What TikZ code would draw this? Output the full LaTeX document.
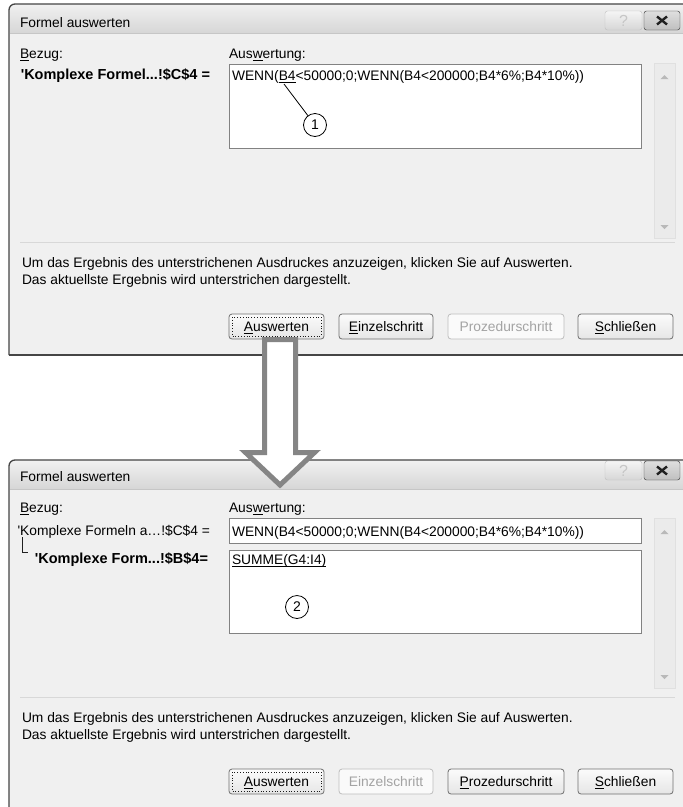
\documentclass[tikz,border=0pt]{standalone}
\usepackage{fontspec}
\setmainfont{Liberation Sans}
\definecolor{bodybg}{HTML}{F0F0F0}
\definecolor{frameC}{HTML}{454545}
\definecolor{boxC}{HTML}{828282}
\definecolor{btnC}{HTML}{707070}
\definecolor{disC}{HTML}{BDBDBD}
\definecolor{distxt}{HTML}{A3A3A3}
\definecolor{sepC}{HTML}{D8D8D8}
\definecolor{arrowC}{HTML}{858585}
\definecolor{sbC}{HTML}{EBEBEB}
\definecolor{sbline}{HTML}{E0E0E0}
\newcommand\ulet[1]{\setbox0\hbox{#1}\rlap{\smash{\vrule height -1.6pt depth 2.6pt width \wd0}}\box0}
\begin{document}
\begin{tikzpicture}[x=1pt,y=-1pt,
  every node/.style={font=\fontsize{13.8}{17}\selectfont, inner sep=0pt, outer sep=0pt},
  lbl/.style={anchor=base west},
  lblr/.style={anchor=base east},
  boldlbl/.style={anchor=base east, font=\fontsize{14.5}{17}\selectfont\bfseries},
  tbox/.style={draw=boxC, fill=white, line width=0.9, anchor=north west},
  btn/.style={draw=btnC, rounded corners=3pt, top color=gray!3, bottom color=gray!20, line width=0.8, minimum height=25, anchor=north west},
  btnoff/.style={draw=disC, rounded corners=3pt, fill=gray!4, text=distxt, line width=0.8, minimum height=25, anchor=north west},
  capq/.style={draw=gray!50, rounded corners=2.5pt, top color=gray!8, bottom color=gray!32, minimum width=37, minimum height=19, anchor=north west, text=gray!45, font=\fontsize{16}{16}\selectfont},
  capx/.style={draw=gray!35!black, rounded corners=2.5pt, top color=gray!25, bottom color=gray!50, minimum width=36, minimum height=19, anchor=north west},
  xmark/.style={line width=2.4, gray!25!black},
  callout/.style={circle, draw, line width=0.8, minimum size=23, font=\fontsize{14}{14}\selectfont},
  sb/.style={draw=sbline, fill=sbC, anchor=north west, minimum width=21},
  sep/.style={sepC, line width=1},
  tri/.style={fill=gray!55}
]
\useasboundingbox (0,0) rectangle (683,807);
\clip (0,0) rectangle (683,807);
\fill[white] (0,0) rectangle (683,807);

% ================= TOP DIALOG =================
\fill[bodybg] (9,355) [rounded corners=6]-- (9,4) [sharp corners]-- (690,4) -- (690,355) -- cycle;
\shade[top color=gray!12, bottom color=gray!32] (10,33) [rounded corners=5]-- (10,5) [sharp corners]-- (683,5) -- (683,33) -- cycle;
\draw[gray!45] (10,33) -- (683,33);
\draw[frameC, line width=1.3] (9,355) [rounded corners=6]-- (9,4) -- (690,4);
\draw[frameC, line width=2] (9,355) -- (690,355);
\node[lbl] (t1) at (20,27) {Formel auswerten};
\node[capq] (q1) at (605,11) {?};
\node[capx] (x1) at (644,11) {};
\draw[xmark] ([shift={(-5,-4)}]x1.center) -- ([shift={(5,4)}]x1.center);
\draw[xmark] ([shift={(-5,4)}]x1.center) -- ([shift={(5,-4)}]x1.center);

\node[lbl] (bz1) at (20,58) {\ulet{B}ezug:};
\node[lbl] (aw1) at (229,58) {Aus\ulet{w}ertung:};
\node[boldlbl] (ref1) at (210,79) {\textquotesingle Komplexe Formel...!\$C\$4 =};
\node[tbox, minimum width=412, minimum height=84] (box1) at (229,64) {};
\node[lbl] (f1) at (232,80) {WENN(\ulet{B4}<50000;0;WENN(B4<200000;B4*6\%;B4*10\%))};
\node[callout] (c1) at (315,125) {1};
\coordinate (p1) at (284,84);
\draw[line width=0.8] (p1) -- (c1);

\node[sb, minimum height=175] (sb1) at (654,63) {};
\fill[tri] (660.5,79) -- (668.5,79) -- (664.5,75) -- cycle;
\fill[tri] (660.5,225) -- (668.5,225) -- (664.5,229) -- cycle;
\draw[sep] (20,242) -- (675,242);

\node[lbl] (m1) at (22,267) {Um das Ergebnis des unterstrichenen Ausdruckes anzuzeigen, klicken Sie auf Auswerten.};
\node[lbl] (m2) at (22,284) {Das aktuellste Ergebnis wird unterstrichen dargestellt.};

\node[btn, minimum width=95] (b11) at (229,314) {\ulet{A}uswerten};
\draw[dotted, line width=0.8, gray!20!black] ([shift={(3,3)}]b11.north west) rectangle ([shift={(-3,-3)}]b11.south east);
\node[btn, minimum width=94] (b12) at (339,314) {\ulet{E}inzelschritt};
\node[btnoff, minimum width=116] (b13) at (448,314) {Prozedurschritt};
\node[btn, minimum width=95] (b14) at (578,314) {\ulet{S}chließen};

% ================= BOTTOM DIALOG =================
\fill[bodybg] (9,820) [rounded corners=6]-- (9,460) [sharp corners]-- (690,460) -- (690,820) -- cycle;
\shade[top color=gray!12, bottom color=gray!32] (10,489) [rounded corners=5]-- (10,461) [sharp corners]-- (683,461) -- (683,489) -- cycle;
\draw[gray!45] (10,489) -- (683,489);
\draw[frameC, line width=1.3] (9,820) [rounded corners=6]-- (9,460) -- (690,460);
\node[lbl] (t2) at (20,481) {Formel auswerten};
\node[capq] (q2) at (605,461) {?};
\node[capx] (x2) at (644,461) {};
\draw[xmark] ([shift={(-5,-4)}]x2.center) -- ([shift={(5,4)}]x2.center);
\draw[xmark] ([shift={(-5,4)}]x2.center) -- ([shift={(5,-4)}]x2.center);

\node[lbl] (bz2) at (20,512) {\ulet{B}ezug:};
\node[lbl] (aw2) at (229,512) {Aus\ulet{w}ertung:};
\node[lblr] (ref2) at (210,535) {\textquotesingle Komplexe Formeln a…!\$C\$4 =};
\node[boldlbl] (ref3) at (208,563) {\textquotesingle Komplexe Form...!\$B\$4=};
\coordinate (tr1) at (22,537);
\coordinate (tr2) at (28,552);
\draw[gray!25!black, line width=0.8] (tr1) |- (tr2);

\node[tbox, minimum width=412, minimum height=25] (box2) at (229,518) {};
\node[lbl] (f2) at (232,536) {WENN(B4<50000;0;WENN(B4<200000;B4*6\%;B4*10\%))};
\node[tbox, minimum width=412, minimum height=83] (box3) at (229,550) {};
\node[lbl] (f3) at (232,564) {\ulet{SUMME(G4:I4)}};
\node[callout] (c2) at (297,607) {2};

\node[sb, minimum height=170] (sb2) at (654,518) {};
\fill[tri] (660.5,534) -- (668.5,534) -- (664.5,530) -- cycle;
\fill[tri] (660.5,675) -- (668.5,675) -- (664.5,679) -- cycle;
\draw[sep] (20,697) -- (675,697);

\node[lbl] (m3) at (22,722) {Um das Ergebnis des unterstrichenen Ausdruckes anzuzeigen, klicken Sie auf Auswerten.};
\node[lbl] (m4) at (22,739) {Das aktuellste Ergebnis wird unterstrichen dargestellt.};

\node[btn, minimum width=95] (b21) at (229,769) {\ulet{A}uswerten};
\draw[dotted, line width=0.8, gray!20!black] ([shift={(3,3)}]b21.north west) rectangle ([shift={(-3,-3)}]b21.south east);
\node[btnoff, minimum width=94] (b22) at (339,769) {Einzelschritt};
\node[btn, minimum width=116] (b23) at (448,769) {\ulet{P}rozedurschritt};
\node[btn, minimum width=95] (b24) at (578,769) {\ulet{S}chließen};

% ================= BIG ARROW =================
\draw[arrowC, line width=5, fill=white, line join=miter, miter limit=10]
  (264.5,339.5) -- (295.5,339.5) -- (295.5,452.5) -- (314.5,452.5) -- (280,485) -- (245.5,452.5) -- (264.5,452.5) -- cycle;
\end{tikzpicture}
\end{document}
